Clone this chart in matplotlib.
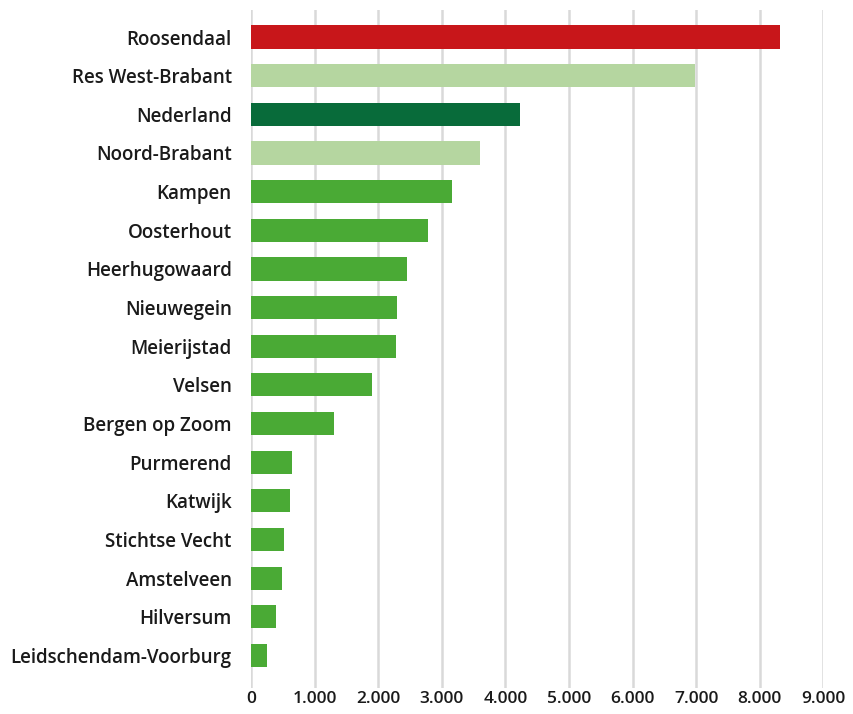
import matplotlib
matplotlib.use("Agg")
import matplotlib.pyplot as plt
from matplotlib.ticker import FuncFormatter

categories = ["Roosendaal", "Res West-Brabant", "Nederland", "Noord-Brabant", "Kampen",
              "Oosterhout", "Heerhugowaard", "Nieuwegein", "Meierijstad", "Velsen",
              "Bergen op Zoom", "Purmerend", "Katwijk", "Stichtse Vecht", "Amstelveen",
              "Hilversum", "Leidschendam-Voorburg"]
values = [8320, 6990, 4230, 3600, 3160, 2780, 2450, 2300, 2280, 1900, 1310,
          650, 610, 520, 490, 390, 250]
bar_colors = ["#C8161A", "#B5D6A0", "#086B3A", "#B5D6A0"] + ["#4AAA35"] * 13
xticks = [0, 1000, 2000, 3000, 4000, 5000, 6000, 7000, 8000, 9000]

plt.rcParams['font.family'] = ['Open Sans', 'DejaVu Sans']

fig = plt.figure(figsize=(8.54, 7.14), dpi=100)
ax = fig.add_axes([0.294, 0.036, 0.670, 0.950])

ypos = list(range(len(categories)))
ax.barh(ypos, values, height=0.6, color=bar_colors, zorder=3)
ax.set_yticks(ypos)
ax.set_yticklabels(categories, fontsize=13.5, fontweight='semibold', color='#1a1a1a')
ax.set_ylim(16.85, -0.70)
ax.set_xlim(0, 9000)
ax.set_xticks(xticks)
ax.xaxis.set_major_formatter(FuncFormatter(lambda v, p: f"{int(v):,}".replace(",", ".")))
for lbl in ax.get_xticklabels():
    lbl.set_fontsize(12.5)
    lbl.set_fontweight('semibold')
    lbl.set_color('#1a1a1a')
ax.tick_params(axis='both', length=0)
ax.tick_params(axis='y', pad=14)
ax.tick_params(axis='x', pad=2)
ax.grid(axis='x', color='#d9d9d9', linewidth=1.8, zorder=0)
for s in ax.spines.values():
    s.set_visible(False)

fig.savefig("out.png", dpi=100)
